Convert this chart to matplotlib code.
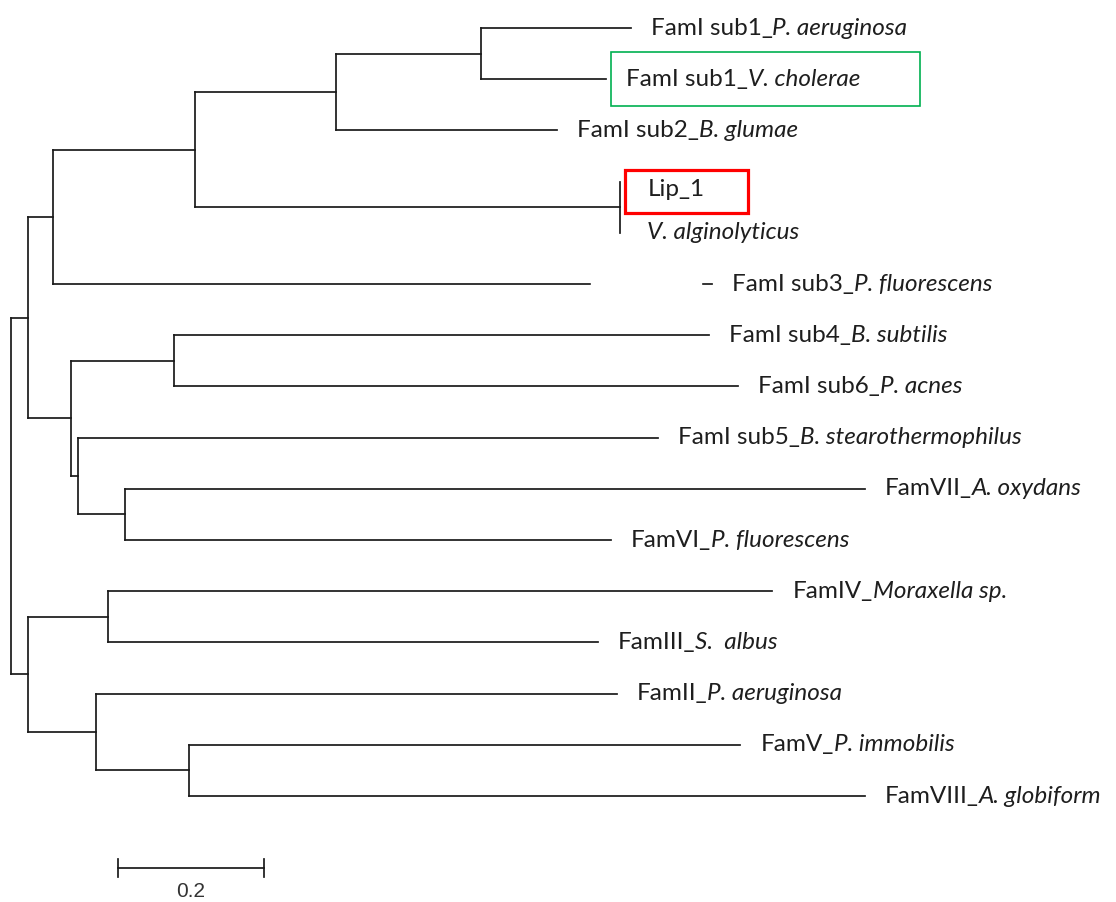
import numpy as np
import matplotlib.pyplot as plt
from matplotlib.collections import LineCollection
from matplotlib.patches import Rectangle

# internal nodes: name, parent, branch length (parents listed before children)
node_names = ["root", "A", "D", "B", "C", "E", "F", "G", "H", "I", "J", "K", "L", "M", "N"]
node_parent = [None, "root", "root", "A", "A", "B", "E", "E", "F", "C", "C", "J", "D", "D", "M"]
node_len = [0.0, 0.0227, 0.0227, 0.0342, 0.0587, 0.194, 0.193, 0.581, 0.198,
            0.141, 0.0089, 0.0649, 0.109, 0.093, 0.127]

# leaves, top to bottom
leaf_plain = ["FamI sub1_", "FamI sub1_", "FamI sub2_", "Lip_1", "", "FamI sub3_",
              "FamI sub4_", "FamI sub6_", "FamI sub5_", "FamVII_", "FamVI_",
              "FamIV_", "FamIII_", "FamII_", "FamV_", "FamVIII_"]
leaf_ital = ["P. aeruginosa", "V. cholerae", "B. glumae", "", "V. alginolyticus",
             "P. fluorescens", "B. subtilis", "P. acnes", "B. stearothermophilus",
             "A. oxydans", "P. fluorescens", "Moraxella sp.", "S.  albus",
             "P. aeruginosa", "P. immobilis", "A. globiform"]
leaf_parent = ["H", "H", "F", "G", "G", "B", "I", "I", "J", "K", "K",
               "L", "L", "M", "N", "N"]
leaf_len = [0.204, 0.171, 0.302, 0.0, 0.0, 0.900, 0.731, 0.770, 0.793,
            1.011, 0.664, 0.908, 0.669, 0.711, 0.753, 0.923]

scale_len = 0.2

# node depths
x = {}
for n, p, l in zip(node_names, node_parent, node_len):
    x[n] = 0.0 if p is None else x[p] + l

leaf_x = [x[p] + l for p, l in zip(leaf_parent, leaf_len)]
leaf_y = list(range(len(leaf_plain)))

# children y's
kids = {n: [] for n in node_names}
for i, p in enumerate(leaf_parent):
    kids[p].append(leaf_y[i])
y = {}
for n, p in zip(reversed(node_names), reversed(node_parent)):
    ys = kids[n]
    y[n] = (min(ys) + max(ys)) / 2
    if p is not None:
        kids[p].append(y[n])

segs = []
for n, p in zip(node_names, node_parent):
    segs.append([(x[n], min(kids[n])), (x[n], max(kids[n]))])
    if p is not None:
        segs.append([(x[p], y[n]), (x[n], y[n])])
for i, p in enumerate(leaf_parent):
    if leaf_len[i] > 0:
        segs.append([(x[p], leaf_y[i]), (leaf_x[i], leaf_y[i])])

fig = plt.figure(figsize=(11.16, 9.02), dpi=100)
ax = fig.add_axes([0, 0, 1, 1])
ax.set_xlim(-0.0156, 1.509)
ax.set_ylim(17.07, -0.547)
ax.axis("off")

ax.add_collection(LineCollection(segs, colors="#1a1a1a", linewidths=1.25,
                                 capstyle="projecting"))

# piece of the sub3 branch hidden in the original
ax.add_patch(Rectangle((0.7918, 4.8), 0.1505, 0.4, color="white", zorder=3))

font = "Lato"
fs = 17.5
for i in range(len(leaf_plain)):
    gap = 27 if leaf_len[i] == 0 else 20
    dy = -6 if leaf_plain[i] == "Lip_1" else 0
    pos = dict(xy=(leaf_x[i], leaf_y[i]), xytext=(gap * 0.72, dy),
               textcoords="offset points", va="center", ha="left",
               fontsize=fs, family=font, color="#1e1e1e", zorder=4)
    if leaf_plain[i]:
        t = ax.annotate(leaf_plain[i], **pos)
        if leaf_ital[i]:
            ax.annotate(leaf_ital[i], xy=(1, 0), xycoords=t, va="bottom", ha="left",
                        fontsize=fs, family=font, style="italic", color="#1e1e1e")
    else:
        ax.annotate(leaf_ital[i], style="italic", **pos)

# highlight boxes
ax.add_patch(Rectangle((0.819, 0.469), 0.422, 1.054, fill=False,
                       edgecolor="#00b050", linewidth=1.2, zorder=5))
ax.add_patch(Rectangle((0.838, 2.773), 0.168, 0.84, fill=False,
                       edgecolor="#ff0000", linewidth=2.3, zorder=5))

# scale bar
sx, sy = 0.145, 16.406
ax.plot([sx, sx + scale_len], [sy, sy], color="#1a1a1a", lw=1.25)
ax.plot([sx, sx], [sy - 0.17, sy + 0.17], color="#1a1a1a", lw=1.25)
ax.plot([sx + scale_len] * 2, [sy - 0.17, sy + 0.17], color="#1a1a1a", lw=1.25)
ax.text(sx + scale_len / 2, sy + 0.46, str(scale_len), ha="center", va="center",
        fontsize=15, family="Liberation Sans", color="#333333")

fig.savefig("out.png", dpi=100)
